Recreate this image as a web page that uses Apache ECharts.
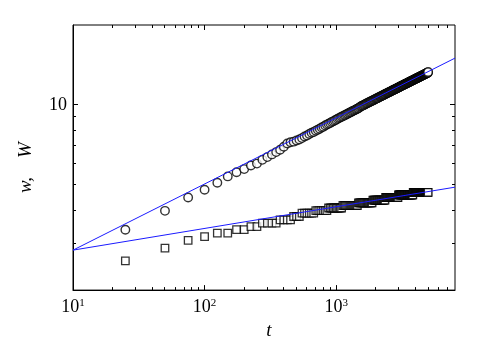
<!DOCTYPE html>
<html><head><meta charset="utf-8">
<script src="https://cdn.jsdelivr.net/npm/echarts@6/dist/echarts.min.js"></script>
<style>html,body{margin:0;padding:0;background:#fff}#c{width:498px;height:345px}</style>
</head><body><div id="c"></div>
<script>
const tValues = [
25,50,75,100,125,150,175,200,225,250,275,300,325,350,375,400,425,450,475,500,
525,550,575,600,625,650,675,700,725,750,775,800,825,850,875,900,925,950,975,1000,
1025,1050,1075,1100,1125,1150,1175,1200,1225,1250,1275,1300,1325,1350,1375,1400,1425,1450,1475,1500,
1525,1550,1575,1600,1625,1650,1675,1700,1725,1750,1775,1800,1825,1850,1875,1900,1925,1950,1975,2000,
2025,2050,2075,2100,2125,2150,2175,2200,2225,2250,2275,2300,2325,2350,2375,2400,2425,2450,2475,2500,
2525,2550,2575,2600,2625,2650,2675,2700,2725,2750,2775,2800,2825,2850,2875,2900,2925,2950,2975,3000,
3025,3050,3075,3100,3125,3150,3175,3200,3225,3250,3275,3300,3325,3350,3375,3400,3425,3450,3475,3500,
3525,3550,3575,3600,3625,3650,3675,3700,3725,3750,3775,3800,3825,3850,3875,3900,3925,3950,3975,4000,
4025,4050,4075,4100,4125,4150,4175,4200,4225,4250,4275,4300,4325,4350,4375,4400,4425,4450,4475,4500,
4525,4550,4575,4600,4625,4650,4675,4700,4725,4750,4775,4800,4825,4850,4875,4900,4925,4950,4975,5000];
const wValues = [
3.38,3.98,4.47,4.78,5.08,5.37,5.57,5.72,5.90,6.00,6.20,6.35,6.50,6.63,6.77,6.95,7.15,7.22,7.26,7.33,
7.40,7.49,7.59,7.66,7.76,7.84,7.90,7.99,8.06,8.12,8.21,8.27,8.36,8.42,8.48,8.54,8.61,8.66,8.73,8.79,
8.85,8.91,8.96,9.01,9.06,9.11,9.16,9.21,9.26,9.31,9.35,9.40,9.45,9.49,9.53,9.58,9.62,9.67,9.71,9.76,
9.84,9.88,9.92,9.95,9.99,10.03,10.07,10.11,10.14,10.18,10.22,10.25,10.29,10.32,10.36,10.39,10.43,10.46,10.49,10.53,
10.56,10.59,10.62,10.66,10.69,10.72,10.75,10.78,10.81,10.84,10.87,10.90,10.93,10.96,10.99,11.02,11.05,11.07,11.10,11.13,
11.16,11.19,11.21,11.24,11.27,11.30,11.32,11.35,11.37,11.40,11.43,11.45,11.48,11.50,11.53,11.55,11.58,11.60,11.63,11.65,
11.68,11.70,11.72,11.75,11.77,11.79,11.82,11.84,11.86,11.89,11.91,11.93,11.95,11.98,12.00,12.02,12.04,12.06,12.08,12.11,
12.13,12.15,12.17,12.19,12.21,12.24,12.26,12.28,12.30,12.32,12.34,12.36,12.38,12.40,12.42,12.44,12.46,12.48,12.50,12.52,
12.54,12.56,12.58,12.59,12.62,12.63,12.65,12.67,12.69,12.71,12.73,12.75,12.76,12.78,12.80,12.82,12.84,12.86,12.88,12.89,
12.91,12.93,12.95,12.96,12.98,13.00,13.02,13.03,13.05,13.07,13.09,13.10,13.12,13.14,13.15,13.17,13.19,13.20,13.22,13.30];
const WValues = [
2.58,2.88,3.08,3.18,3.28,3.28,3.38,3.38,3.47,3.47,3.58,3.58,3.58,3.58,3.68,3.68,3.68,3.68,3.79,3.79,
3.79,3.90,3.90,3.90,3.90,3.90,3.90,3.99,3.99,3.99,3.99,3.99,3.99,3.99,4.08,4.08,4.08,4.08,4.08,4.08,
4.08,4.08,4.08,4.08,4.17,4.17,4.17,4.17,4.17,4.17,4.17,4.17,4.17,4.17,4.17,4.17,4.17,4.17,4.27,4.27,
4.27,4.27,4.27,4.27,4.27,4.27,4.27,4.27,4.27,4.27,4.27,4.27,4.27,4.27,4.27,4.37,4.37,4.37,4.37,4.37,
4.37,4.37,4.37,4.37,4.37,4.37,4.37,4.37,4.37,4.37,4.37,4.37,4.37,4.37,4.47,4.47,4.47,4.47,4.47,4.47,
4.47,4.47,4.47,4.47,4.47,4.47,4.47,4.47,4.47,4.47,4.47,4.47,4.47,4.47,4.47,4.47,4.47,4.47,4.57,4.57,
4.57,4.57,4.57,4.57,4.57,4.57,4.57,4.57,4.57,4.57,4.57,4.57,4.57,4.57,4.57,4.57,4.57,4.57,4.57,4.57,
4.57,4.57,4.57,4.57,4.57,4.57,4.57,4.57,4.57,4.57,4.57,4.57,4.57,4.67,4.67,4.67,4.67,4.67,4.67,4.67,
4.67,4.67,4.67,4.67,4.67,4.67,4.67,4.67,4.67,4.67,4.67,4.67,4.67,4.67,4.67,4.67,4.67,4.67,4.67,4.67,
4.67,4.67,4.67,4.67,4.67,4.67,4.67,4.67,4.67,4.67,4.67,4.67,4.67,4.67,4.67,4.67,4.67,4.67,4.67,4.67];
const fitX = [10, 8000];
const fitUpperY = [2.83, 15.0];
const fitLowerY = [2.83, 4.89];
const xMajorTicks = [10, 100, 1000];
const xMinorTicks = [20,30,40,50,60,70,80,90,200,300,400,500,600,700,800,900,2000,3000,4000,5000,6000,7000];
const yMajorTicks = [10];
const yMinorTicks = [3,4,5,6,7,8,9];
const X_MIN = 10, X_MAX = 8000, Y_MIN = 2, Y_MAX = 20;

const serif = '"Liberation Serif", "Times New Roman", Times, serif';
const chart = echarts.init(document.getElementById('c'), null, {renderer: 'canvas'});
const zip = (a, b) => a.map((v, i) => [v, b[i]]);
const xTickData = xMajorTicks.map(v => [v, Y_MIN, 5]).concat(xMinorTicks.map(v => [v, Y_MIN, 3]));
const yTickData = yMajorTicks.map(v => [X_MIN, v, 5]).concat(yMinorTicks.map(v => [X_MIN, v, 3]));
const tickStyle = {stroke: '#000', lineWidth: 1};
const snap = v => Math.round(v - 0.5) + 0.5;

chart.setOption({
  animation: false,
  textStyle: {fontFamily: serif},
  grid: {left: 73, right: 43, top: 25, bottom: 54, show: true, borderColor: '#000', borderWidth: 1, backgroundColor: 'transparent'},
  xAxis: {
    type: 'log', logBase: 10, min: X_MIN, max: X_MAX,
    name: 't', nameLocation: 'middle', nameGap: 30,
    nameTextStyle: {fontFamily: serif, fontStyle: 'italic', fontSize: 19, color: '#000', padding: [0, 0, 0, 10]},
    axisLine: {show: true, lineStyle: {color: '#000', width: 1}},
    axisTick: {show: false}, splitLine: {show: false}, minorTick: {show: false},
    axisLabel: {
      margin: 8,
      formatter: v => { const e = Math.log10(v), r = Math.round(e); return Math.abs(e - r) < 1e-6 ? '{b|10}{s|' + r + '}' : ''; },
      rich: {
        b: {fontFamily: serif, fontSize: 18, color: '#000', lineHeight: 18},
        s: {fontFamily: serif, fontSize: 11, color: '#000', lineHeight: 10, verticalAlign: 'top'}
      }
    }
  },
  yAxis: {
    type: 'log', logBase: 10, min: Y_MIN, max: Y_MAX,
    name: 'w,    W', nameLocation: 'middle', nameGap: 38, nameRotate: 90,
    nameTextStyle: {fontFamily: serif, fontStyle: 'italic', fontSize: 19, color: '#000', padding: [0, 20, 0, 0]},
    axisLine: {show: true, lineStyle: {color: '#000', width: 1}},
    axisTick: {show: false}, splitLine: {show: false}, minorTick: {show: false},
    axisLabel: {
      margin: 6, fontFamily: serif, fontSize: 18, color: '#000',
      formatter: v => Math.abs(v - 10) < 1e-6 ? '10' : ''
    }
  },
  series: [
    {
      type: 'scatter', data: zip(tValues, wValues), symbol: 'circle', symbolSize: 8.5,
      itemStyle: {color: '#fff', borderColor: '#000', borderWidth: 1.4}, z: 2, silent: true
    },
    {
      type: 'scatter', data: zip(tValues, WValues), symbol: 'rect', symbolSize: 7.5,
      itemStyle: {color: '#fff', borderColor: '#000', borderWidth: 1.3}, z: 2, silent: true
    },
    {
      type: 'line', data: zip(fitX, fitUpperY), showSymbol: false, symbol: 'none',
      lineStyle: {color: '#1a1aff', width: 1}, z: 3, silent: true
    },
    {
      type: 'line', data: zip(fitX, fitLowerY), showSymbol: false, symbol: 'none',
      lineStyle: {color: '#1a1aff', width: 1}, z: 3, silent: true
    },
    {
      type: 'custom', data: xTickData, silent: true, z: 4, clip: false,
      encode: {x: 0, y: 1},
      renderItem: (params, api) => {
        const v = api.value(0), len = api.value(2);
        const b = api.coord([v, Y_MIN]), t = api.coord([v, Y_MAX]);
        const x = snap(b[0]);
        return {type: 'group', children: [
          {type: 'line', shape: {x1: x, y1: b[1], x2: x, y2: b[1] - len}, style: tickStyle},
          {type: 'line', shape: {x1: x, y1: t[1], x2: x, y2: t[1] + len}, style: tickStyle}
        ]};
      }
    },
    {
      type: 'custom', data: yTickData, silent: true, z: 4, clip: false,
      encode: {x: 0, y: 1},
      renderItem: (params, api) => {
        const v = api.value(1), len = api.value(2);
        const l = api.coord([X_MIN, v]), r = api.coord([X_MAX, v]);
        const y = snap(l[1]);
        return {type: 'group', children: [
          {type: 'line', shape: {x1: l[0], y1: y, x2: l[0] + len, y2: y}, style: tickStyle},
          {type: 'line', shape: {x1: r[0], y1: y, x2: r[0] - len, y2: y}, style: tickStyle}
        ]};
      }
    }
  ]
});
</script>
</body></html>
